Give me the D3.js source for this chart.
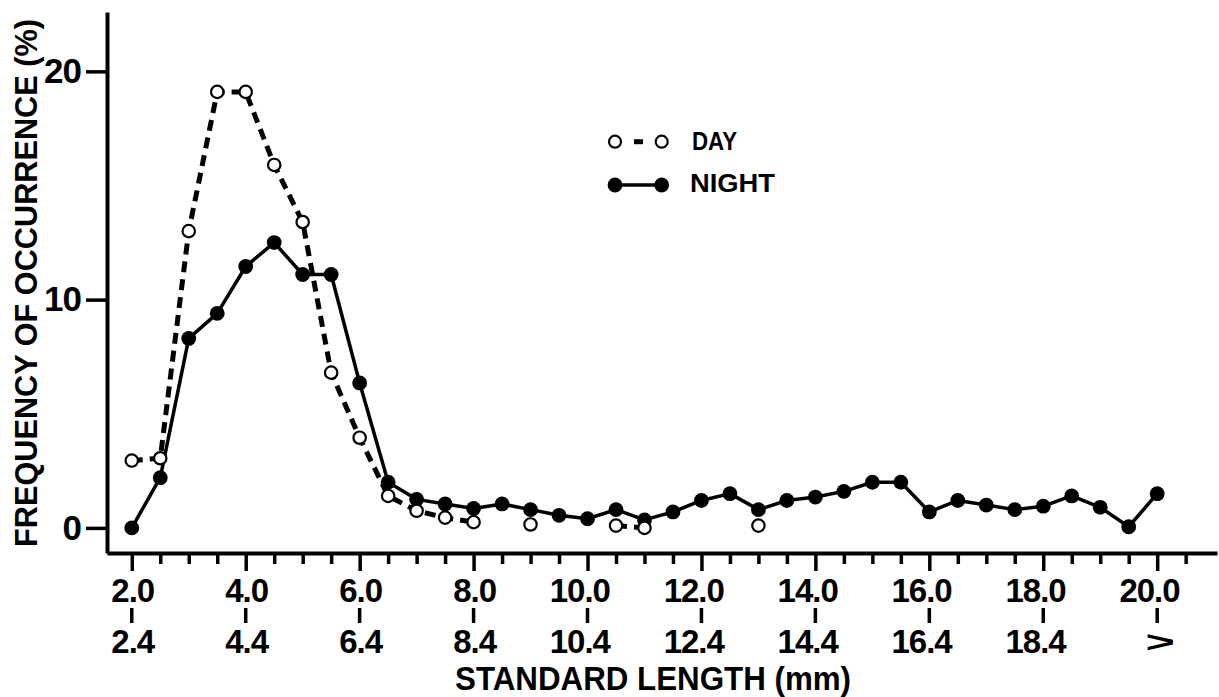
<!DOCTYPE html>
<html>
<head>
<meta charset="utf-8">
<script src="https://cdn.jsdelivr.net/npm/d3@7"></script>
<style>
  body { margin: 0; background: #fff; }
  svg { display: block; }
  text { font-family: "Liberation Sans", Arial, sans-serif; font-weight: bold; fill: #000; }
</style>
</head>
<body>
<svg id="chart" width="1219" height="697"></svg>
<script>
// Lower bound of each 0.5 mm standard-length class
const lengthClasses = [2.0, 2.5, 3.0, 3.5, 4.0, 4.5, 5.0, 5.5, 6.0, 6.5, 7.0, 7.5, 8.0, 8.5,
  9.0, 9.5, 10.0, 10.5, 11.0, 11.5, 12.0, 12.5, 13.0, 13.5, 14.0, 14.5, 15.0, 15.5,
  16.0, 16.5, 17.0, 17.5, 18.0, 18.5, 19.0, 19.5, 20.0];

// Frequency of occurrence (%) per class, night catches
const nightPct = [0.0, 2.2, 8.3, 9.4, 11.45, 12.5, 11.1, 11.1, 6.35, 2.0, 1.25, 1.05, 0.85, 1.05,
  0.8, 0.55, 0.4, 0.8, 0.35, 0.7, 1.2, 1.5, 0.8, 1.2, 1.35, 1.6, 2.0, 2.0,
  0.7, 1.2, 1.0, 0.8, 0.95, 1.4, 0.9, 0.05, 1.5];

// Frequency of occurrence (%) per class, day catches (null = no day sample)
const dayPct = [2.95, 3.05, 13.0, 19.1, 19.1, 15.9, 13.4, 6.8, 3.95, 1.4, 0.75, 0.45, 0.25, null,
  0.15, null, null, 0.1, 0.0, null, null, null, 0.1, null, null, null, null, null,
  null, null, null, null, null, null, null, null, null];

const yTickValues = [0, 10, 20];
const majorLengths = [2, 4, 6, 8, 10, 12, 14, 16, 18, 20];
const upperTickLabels = ["2.0", "4.0", "6.0", "8.0", "10.0", "12.0", "14.0", "16.0", "18.0", "20.0"];
const lowerTickLabels = ["2.4", "4.4", "6.4", "8.4", "10.4", "12.4", "14.4", "16.4", "18.4", ">"];

const svg = d3.select("#chart");

const x = d3.scaleLinear().domain([1.565, 21.05]).range([107, 1217]);
const y = d3.scaleLinear().domain([-1.1, 22.6]).range([553, 12]);

// ---- y axis ----
const yAxis = svg.append("g")
  .attr("transform", `translate(${x(1.565)},0)`)
  .call(d3.axisLeft(y).tickValues(yTickValues).tickSize(21).tickSizeOuter(0).tickPadding(5)
    .tickFormat(d3.format("d")));
yAxis.select(".domain").attr("stroke", "#000").attr("stroke-width", 4);
yAxis.selectAll(".tick line").attr("stroke", "#000").attr("stroke-width", 3.5);
yAxis.selectAll(".tick text")
  .attr("font-size", 35).attr("font-family", "Liberation Sans, Arial, sans-serif")
  .attr("font-weight", "bold").attr("fill", "#000").attr("letter-spacing", -1);

// ---- x axis ----
const xTickValues = d3.range(2, 20.75, 0.5);
const xAxis = svg.append("g")
  .attr("transform", `translate(0,${y(-1.1)})`)
  .call(d3.axisBottom(x).tickValues(xTickValues).tickSize(11).tickSizeOuter(0).tickFormat(""));
xAxis.select(".domain").attr("stroke", "#000").attr("stroke-width", 4);
xAxis.selectAll(".tick line").attr("stroke", "#000").attr("stroke-width", 3.5)
  .attr("y2", d => majorLengths.includes(d) ? 18 : 11);

// Tick labels with the decimal point sitting on the tick
function decimalLabel(g, label, cx, baseline, size) {
  const t = g.append("text")
    .attr("y", baseline)
    .attr("font-size", size)
    .attr("letter-spacing", -1)
    .text(label);
  const i = label.indexOf(".");
  if (i < 0) {
    // open-ended last class: a wide, flat chevron
    t.attr("x", 0).attr("y", 0).attr("text-anchor", "middle").attr("font-size", 36)
      .attr("letter-spacing", 0)
      .attr("transform", `translate(${cx + 3},${baseline - 1}) scale(1.4,0.8)`);
    return;
  }
  const node = t.node();
  const before = node.getSubStringLength(0, i);
  const dot = node.getSubStringLength(i, 1);
  t.attr("x", cx - before - dot / 2 + 1);
}

const labels = svg.append("g");
majorLengths.forEach((v, i) => {
  const cx = x(v);
  decimalLabel(labels, upperTickLabels[i], cx, 602, 33);
  labels.append("line")
    .attr("x1", cx).attr("x2", cx).attr("y1", 608).attr("y2", 623)
    .attr("stroke", "#000").attr("stroke-width", 3.5);
  decimalLabel(labels, lowerTickLabels[i], cx, 653, 33);
});

// ---- axis titles ----
svg.append("text")
  .attr("transform", `translate(37,283) rotate(-90)`)
  .attr("text-anchor", "middle")
  .attr("font-size", 31)
  .attr("textLength", 528)
  .attr("lengthAdjust", "spacingAndGlyphs")
  .text("FREQUENCY OF OCCURRENCE (%)");

svg.append("text")
  .attr("x", 455).attr("y", 690)
  .attr("font-size", 34)
  .attr("textLength", 396)
  .attr("lengthAdjust", "spacingAndGlyphs")
  .text("STANDARD LENGTH (mm)");

// ---- series ----
const nightData = lengthClasses.map((l, i) => ({ l, v: nightPct[i] }));
const dayData = lengthClasses.map((l, i) => ({ l, v: dayPct[i] }));

const line = d3.line()
  .defined(d => d.v !== null)
  .x(d => x(d.l))
  .y(d => y(d.v));

svg.append("path").datum(nightData)
  .attr("d", line).attr("fill", "none")
  .attr("stroke", "#000").attr("stroke-width", 3.5).attr("stroke-linejoin", "round");

svg.append("path").datum(dayData)
  .attr("d", line).attr("fill", "none")
  .attr("stroke", "#000").attr("stroke-width", 5).attr("stroke-dasharray", "11,7");

svg.append("g").selectAll("circle").data(nightData).join("circle")
  .attr("cx", d => x(d.l)).attr("cy", d => y(d.v)).attr("r", 7.4).attr("fill", "#000");

svg.append("g").selectAll("circle").data(dayData.filter(d => d.v !== null)).join("circle")
  .attr("cx", d => x(d.l)).attr("cy", d => y(d.v)).attr("r", 6.2)
  .attr("fill", "#fff").attr("stroke", "#000").attr("stroke-width", 2.2);

// ---- legend ----
const legend = svg.append("g");
legend.append("line").attr("x1", 634).attr("x2", 643).attr("y1", 141.7).attr("y2", 141.7)
  .attr("stroke", "#000").attr("stroke-width", 5);
[615, 661.7].forEach(cx => {
  legend.append("circle").attr("cx", cx).attr("cy", 141.7).attr("r", 6)
    .attr("fill", "#fff").attr("stroke", "#000").attr("stroke-width", 2.2);
});
legend.append("text").attr("x", 692).attr("y", 150).attr("font-size", 25)
  .attr("textLength", 45).attr("lengthAdjust", "spacingAndGlyphs").text("DAY");

legend.append("line").attr("x1", 615).attr("x2", 661.7).attr("y1", 185).attr("y2", 185)
  .attr("stroke", "#000").attr("stroke-width", 3.5);
[615, 661.7].forEach(cx => {
  legend.append("circle").attr("cx", cx).attr("cy", 185).attr("r", 7.4).attr("fill", "#000");
});
legend.append("text").attr("x", 690).attr("y", 192).attr("font-size", 25)
  .attr("textLength", 85).attr("lengthAdjust", "spacingAndGlyphs").text("NIGHT");
</script>
</body>
</html>
